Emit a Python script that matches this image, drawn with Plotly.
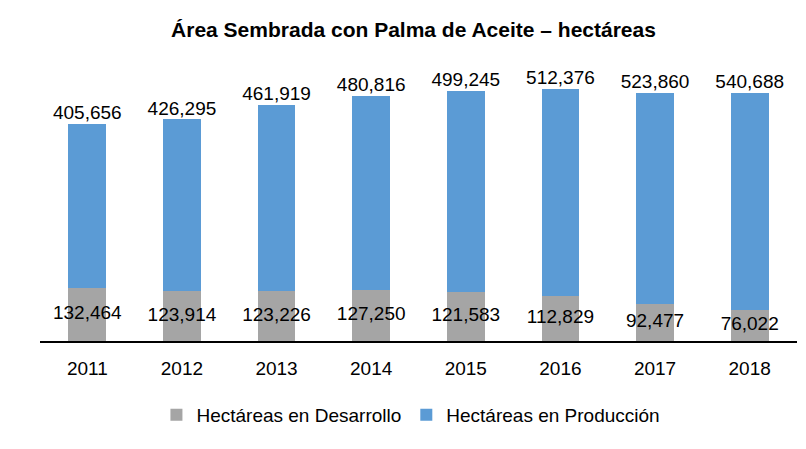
import plotly.graph_objects as go

years = ["2011", "2012", "2013", "2014", "2015", "2016", "2017", "2018"]
desarrollo = [132464, 123914, 123226, 127250, 121583, 112829, 92477, 76022]
produccion = [405656, 426295, 461919, 480816, 499245, 512376, 523860, 540688]

gray = "#A5A5A5"
blue = "#5B9BD5"
FONT = "Liberation Sans Narrow, Arial Narrow, Liberation Sans, Arial, sans-serif"

totals = [d + p for d, p in zip(desarrollo, produccion)]
mid_dev = [d / 2 for d in desarrollo]

fig = go.Figure()
fig.add_trace(go.Bar(x=years, y=desarrollo, name="Hectáreas en Desarrollo",
                     marker=dict(color=gray, line=dict(width=0)), hoverinfo="skip"))
fig.add_trace(go.Bar(x=years, y=produccion, name="Hectáreas en Producción",
                     marker=dict(color=blue, line=dict(width=0)), hoverinfo="skip"))
fig.add_trace(go.Scatter(x=years, y=mid_dev, mode="text",
                         text=[f"{v:,}" for v in desarrollo], textposition="middle center",
                         textfont=dict(size=19, color="#000000", family=FONT),
                         showlegend=False, hoverinfo="skip"))
fig.add_trace(go.Scatter(x=years, y=totals, mode="text",
                         text=[f"{v:,}" for v in produccion], textposition="top center",
                         textfont=dict(size=19, color="#000000", family=FONT),
                         showlegend=False, hoverinfo="skip"))

fig.update_layout(
    width=806, height=449,
    barmode="stack", bargap=0.6,
    paper_bgcolor="white", plot_bgcolor="white",
    margin=dict(l=40, r=9, t=67, b=108),
    font=dict(family=FONT, size=19, color="#000000"),
    title=dict(text="<b>Área Sembrada con Palma de Aceite – hectáreas</b>",
               x=0.513, xanchor="center", y=0.933, yanchor="middle",
               font=dict(size=21, family=FONT, color="#000000")),
    xaxis=dict(showline=True, linecolor="#000000", linewidth=2,
               ticks="outside", ticklen=9, tickcolor="rgba(0,0,0,0)",
               showgrid=False, tickfont=dict(size=19), fixedrange=True),
    yaxis=dict(range=[0, 680000], visible=False, showgrid=False, fixedrange=True),
    legend=dict(orientation="h", x=0.49, xanchor="center", y=-0.27, yanchor="middle",
                font=dict(size=19), itemwidth=30, traceorder="normal"),
    showlegend=True,
)

fig.write_html("out.html", config={"displayModeBar": False},
               post_script="document.body.style.margin='0';")
